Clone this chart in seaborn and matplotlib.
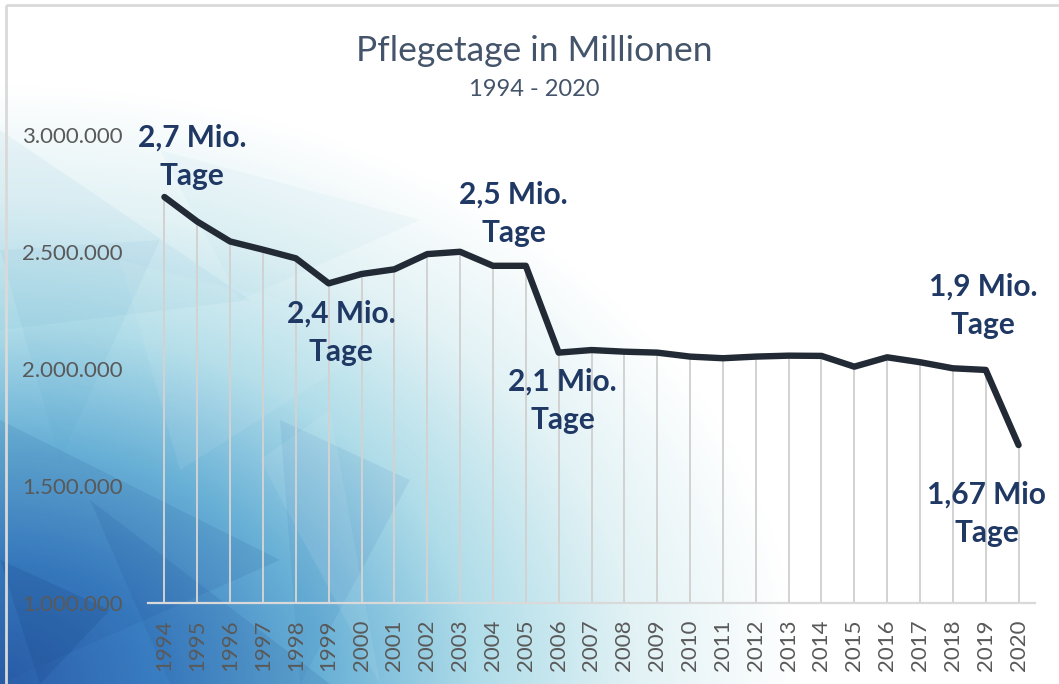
import numpy as np
import pandas as pd
import matplotlib
matplotlib.use("Agg")
import matplotlib.pyplot as plt
from matplotlib.colors import LinearSegmentedColormap
from matplotlib.patches import Polygon, Rectangle
import seaborn as sns

# Daten
jahre = [str(j) for j in range(1994, 2021)]
pflegetage = [
    2735000, 2630000, 2545000, 2510000, 2473000, 2366000, 2406000, 2426000,
    2491000, 2501000, 2441000, 2441000, 2070000, 2081000, 2074000, 2070000,
    2053000, 2046000, 2053000, 2057000, 2056000, 2010000, 2050000, 2029000,
    2003000, 1996000, 1675000,
]
beschriftungen = ["2,7 Mio.\nTage", "2,5 Mio.\nTage", "2,4 Mio.\nTage",
                  "2,1 Mio.\nTage", "1,9 Mio.\nTage", "1,67 Mio\nTage"]
# Position der Beschriftung (Index auf der x-Achse, y-Wert)
beschr_pos = [(0.85, 2906000), (10.63, 2662000), (5.38, 2154000),
              (12.12, 1863000), (24.91, 2269000), (25.03, 1380000)]

titel = "Pflegetage in Millionen"
untertitel = "1994 - 2020"

df = pd.DataFrame({"pos": np.arange(len(jahre)), "Jahr": jahre, "Tage": pflegetage})

sns.set_style("white")
plt.rcParams["font.family"] = ["Lato", "DejaVu Sans"]

W, H = 1059, 684
fig = plt.figure(figsize=(W / 100, H / 100), dpi=100)

# Hintergrund: blauer Verlauf von links unten nach rechts oben
bg = fig.add_axes([0, 0, 1, 1], zorder=-2)
bg.set_axis_off()
xx, yy = np.meshgrid(np.linspace(0, W, 400), np.linspace(0, H, 260))
r = np.sqrt((xx / 800) ** 2 + ((H - yy) / 600) ** 2)
cmap = LinearSegmentedColormap.from_list(
    "bg", [(0, "#2a5ea9"), (0.2, "#3a7ec2"), (0.4, "#68b0d6"),
           (0.6, "#b0dde9"), (0.8, "#e2f2f5"), (1.0, "#ffffff")])
bg.imshow(np.clip(r, 0, 1), cmap=cmap, vmin=0, vmax=1, extent=[0, W, H, 0],
          aspect="auto", interpolation="bilinear")
bg.set_xlim(0, W)
bg.set_ylim(H, 0)

# facettierte Dreiecke als dezente Dekoration
tris = [
    ([(0, 420), (280, 560), (0, 684)], "#1f4f96", 0.12),
    ([(90, 500), (330, 684), (170, 684)], "#1f4f96", 0.14),
    ([(280, 420), (410, 480), (300, 684)], "#2d6db4", 0.10),
    ([(0, 130), (250, 300), (0, 330)], "#5aa9cf", 0.08),
    ([(120, 260), (400, 330), (180, 470)], "#ffffff", 0.08),
    ([(0, 250), (160, 240), (60, 460)], "#4b9cc8", 0.07),
    ([(260, 460), (330, 410), (380, 684)], "#ffffff", 0.08),
    ([(160, 150), (420, 220), (240, 300)], "#8ccbe0", 0.07),
    ([(0, 560), (110, 610), (40, 684)], "#163f80", 0.18),
]
for pts, c, a in tris:
    bg.add_patch(Polygon(pts, closed=True, facecolor=c, edgecolor="none", alpha=a))
bg.add_patch(Rectangle((6, 5), W, H, fill=False, edgecolor="#d9d9d9", lw=2))

ax = fig.add_axes([148 / W, 1 - 603 / H, (1035 - 148) / W, (603 - 135) / H])
ax.patch.set_alpha(0)

# Loteinien von den Punkten zur Achse
ax.vlines(df["pos"], 1_000_000, df["Tage"], color="#d2d2d2", lw=1.4, zorder=1)

sns.lineplot(data=df, x="pos", y="Tage", ax=ax, color="#222a35", lw=4.6,
             solid_capstyle="round", solid_joinstyle="round", zorder=3)

ax.set_xlim(-0.5, len(jahre) - 0.5)
ax.set_ylim(1_000_000, 3_000_000)
ax.set_yticks([1_000_000, 1_500_000, 2_000_000, 2_500_000, 3_000_000])
ax.set_yticklabels([f"{int(v):,}".replace(",", ".") for v in ax.get_yticks()])
ax.set_xticks(df["pos"])
ax.set_xticklabels(jahre, rotation=90)
ax.tick_params(axis="y", length=0, pad=18, labelsize=16, labelcolor="#595959")
ax.tick_params(axis="x", length=0, pad=12, labelsize=16, labelcolor="#595959")
ax.set_xlabel("")
ax.set_ylabel("")

for s in ["top", "right", "left"]:
    ax.spines[s].set_visible(False)
ax.spines["bottom"].set_color("#d9d9d9")
ax.spines["bottom"].set_linewidth(1.6)

for txt, (px, py) in zip(beschriftungen, beschr_pos):
    ax.text(px, py, txt, ha="center", va="center", fontsize=21.5,
            fontweight="bold", color="#1f3864", linespacing=1.45,
            clip_on=False, zorder=4)

fig.text(534 / W, 1 - 51 / H, titel, ha="center", va="center",
         fontsize=25.5, color="#44546a")
fig.text(534 / W, 1 - 89 / H, untertitel, ha="center", va="center",
         fontsize=17, color="#44546a")

fig.savefig("out.png", dpi=100)
